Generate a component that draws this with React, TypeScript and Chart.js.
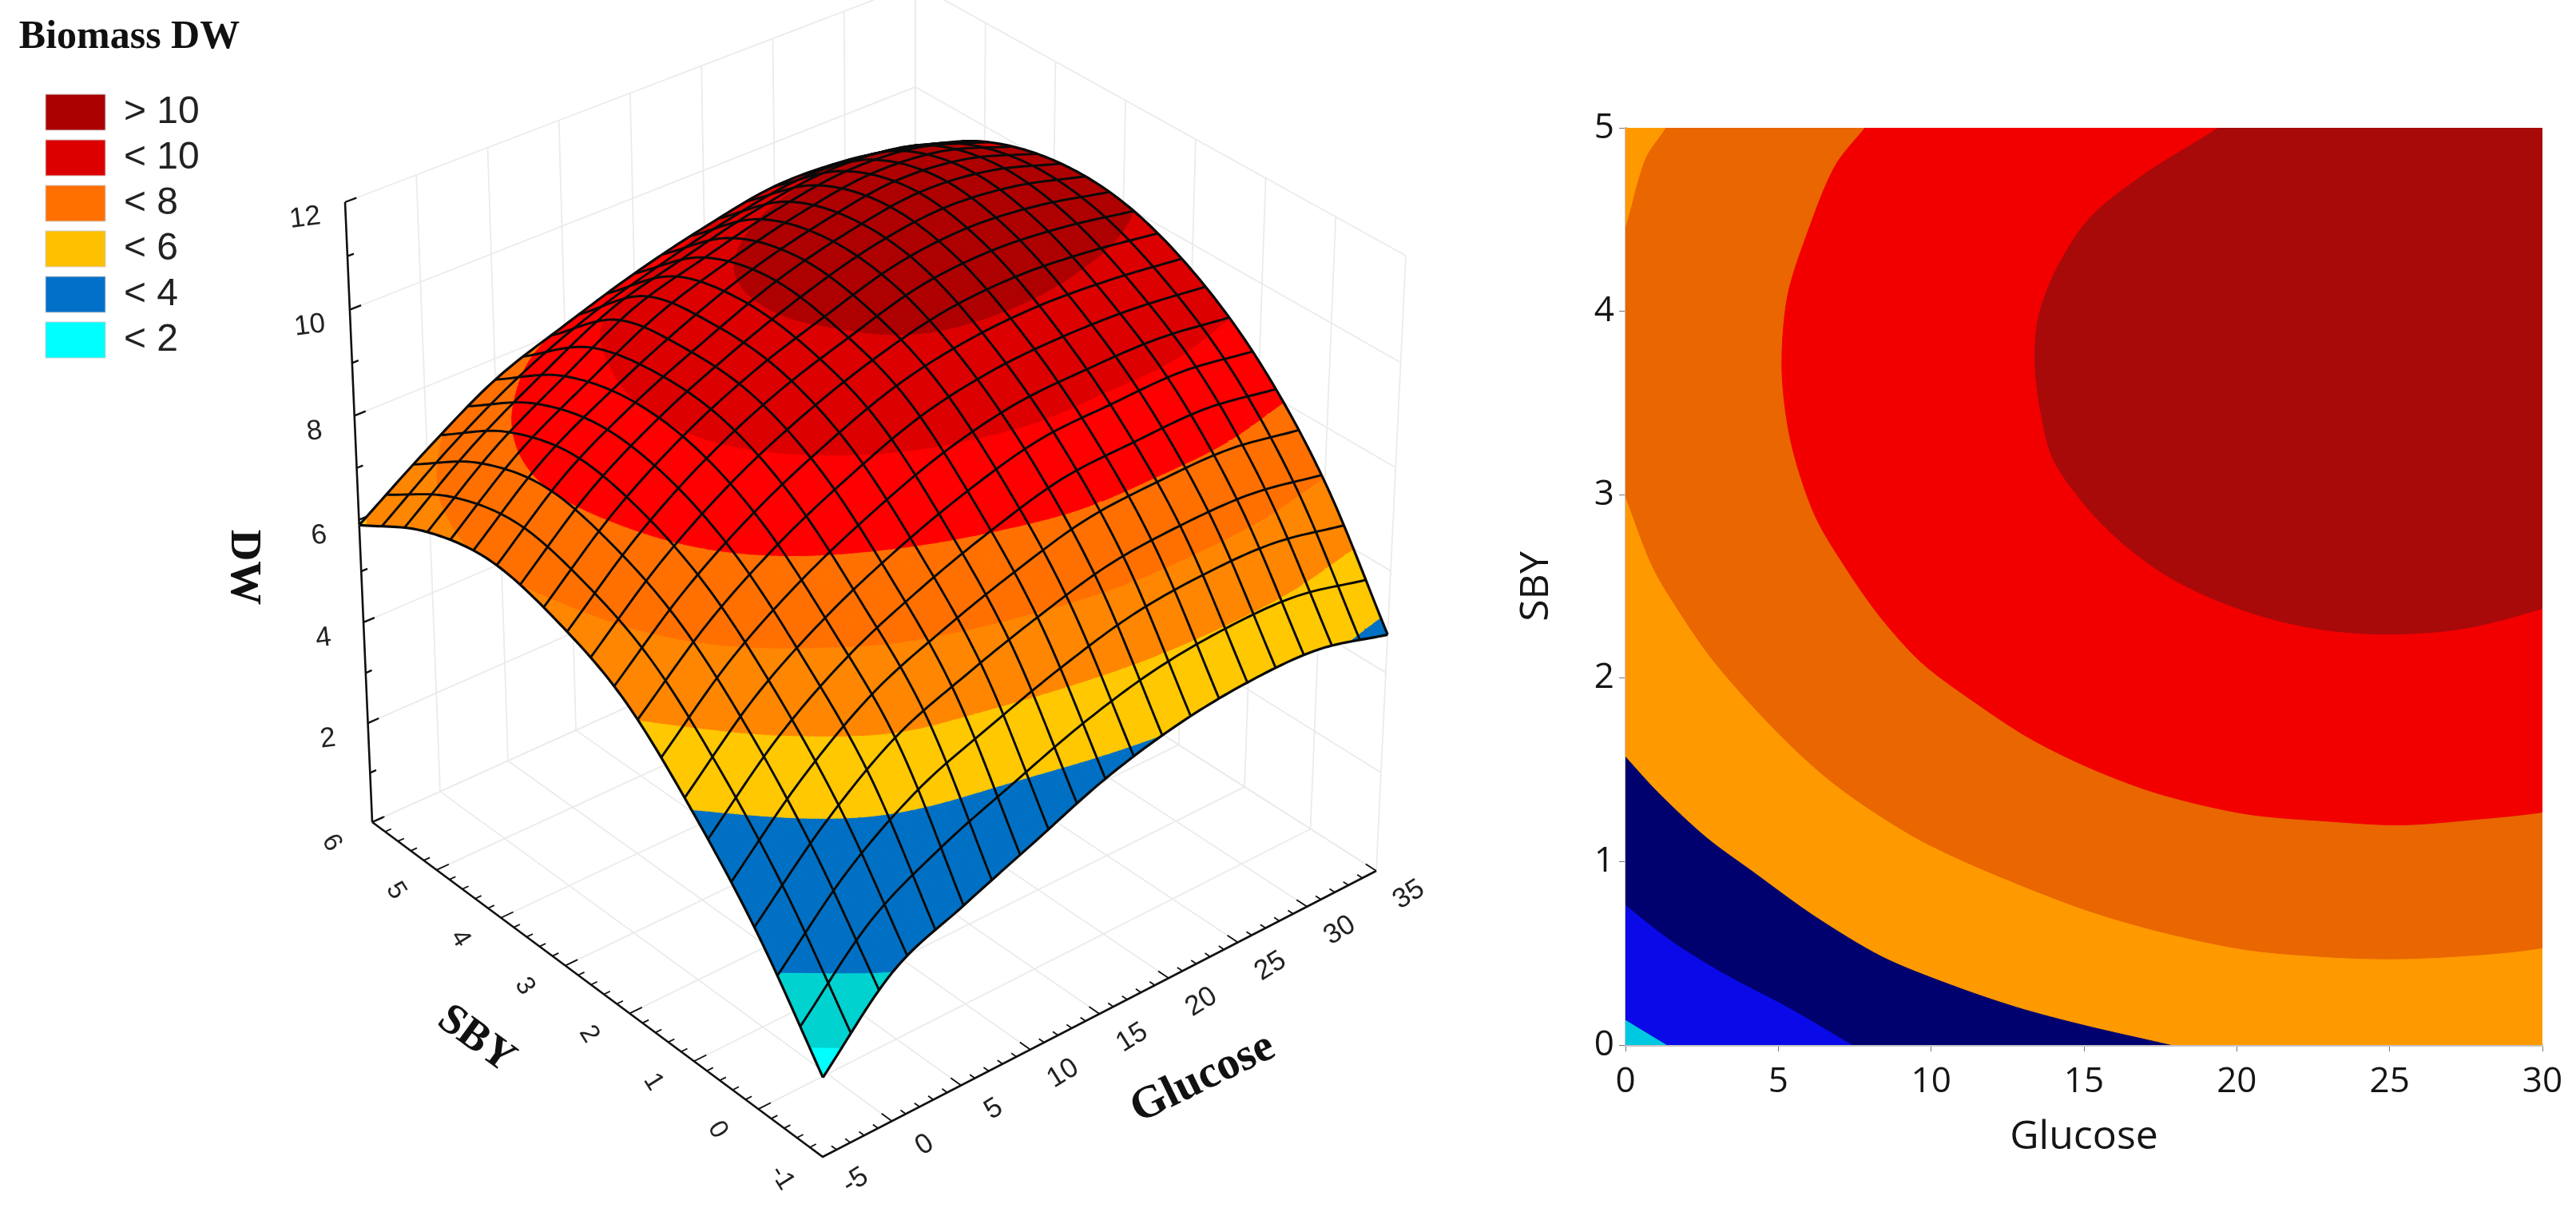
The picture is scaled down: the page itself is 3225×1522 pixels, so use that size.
import React, { useEffect, useRef } from "react";
import { Chart, registerables } from "chart.js";

Chart.register(...registerables);

// ---------- 3D surface values (DW) ----------
const glucoseNodes = [-5, 0, 5, 10, 15, 20, 25, 30, 35];
const sbyNodes = [-1, 0, 1, 2, 3, 4, 5, 6];
const dwAtSbyM1 = [1.6, 3.0, 3.6, 4.15, 4.7, 5.05, 5.2, 5.15, 4.75];
const dwAtSby0 = [3.5, 4.85, 5.85, 6.4, 6.85, 7.2, 7.3, 7.25, 6.95];
const dwAtSby1 = [5.0, 6.3, 7.2, 7.85, 8.35, 8.7, 8.75, 8.75, 8.5];
const dwAtSby2 = [6.2, 7.4, 8.3, 8.97, 9.5, 9.75, 9.8, 9.7, 9.5];
const dwAtSby3 = [6.8, 8.0, 8.9, 9.55, 10.0, 10.4, 10.5, 10.35, 10.05];
const dwAtSby4 = [7.05, 8.2, 8.98, 9.6, 10.15, 10.5, 10.7, 10.55, 10.1];
const dwAtSby5 = [6.7, 7.75, 8.55, 9.3, 9.7, 10.05, 10.25, 10.15, 9.7];
const dwAtSby6 = [5.9, 6.8, 7.6, 8.1, 8.55, 8.9, 9.15, 9.1, 8.85];
const dwTable = [dwAtSbyM1, dwAtSby0, dwAtSby1, dwAtSby2, dwAtSby3, dwAtSby4, dwAtSby5, dwAtSby6];

const bandLevels = [2, 3, 5, 6, 7, 8, 9, 10];
const bandColors = ["#00FFFF", "#00D2D0", "#0070C4", "#FFC800", "#FF8600", "#FF7000", "#FF0000", "#DC0000", "#AE0000"];

const glucoseTicks3d = [-5, 0, 5, 10, 15, 20, 25, 30, 35];
const sbyTicks3d = [-1, 0, 1, 2, 3, 4, 5, 6];
const dwTicks3d = [2, 4, 6, 8, 10, 12];

const legendLabels = ["> 10", "< 10", "< 8", "< 6", "< 4", "< 2"];
const legendColors = ["#AA0000", "#DD0000", "#FF7000", "#FFC000", "#0070C8", "#00FFFF"];

// ---------- contour panel boundaries (Glucose, SBY) ----------
const contourDarkOrange = [[2,5.2],[1.33,5],[0.66,4.83],[0.07,4.49],[-1,3.9],[-1,3.4],[0,2.99],[0.88,2.61],[1.77,2.36],[2.76,2.12],[3.98,1.88],[5.3,1.65],[6.63,1.45],[7.95,1.29],[9.72,1.11],[11.93,0.94],[15,0.74],[17.45,0.62],[20.3,0.52],[23,0.48],[25.2,0.47],[27.8,0.49],[30,0.53],[31.5,0.6],[31.5,6],[2,6]];
const contourRed = [[8.8,5.2],[7.84,5],[6.85,4.79],[5.96,4.43],[5.3,4.08],[5.12,3.68],[5.41,3.29],[6.19,2.89],[7.29,2.58],[8.4,2.32],[9.72,2.08],[11.5,1.86],[13.25,1.67],[15.2,1.51],[17.45,1.37],[20.3,1.26],[23,1.22],[25.4,1.2],[27.8,1.23],[30,1.27],[31.5,1.33],[31.5,6],[8.8,6]];
const contourDarkRed = [[21,5.2],[19.4,5],[17,4.75],[15.2,4.51],[14.1,4.23],[13.5,3.96],[13.4,3.7],[13.6,3.44],[14,3.19],[15.1,2.93],[16.3,2.73],[17.7,2.56],[19.4,2.42],[21.2,2.32],[23,2.26],[25,2.24],[27.4,2.27],[30,2.38],[31.5,2.48],[31.5,6],[21,6]];
const contourNavy = [[-1,1.76],[0,1.57],[1.1,1.37],[2.65,1.13],[4.2,0.94],[6.2,0.7],[8.4,0.48],[10.6,0.33],[12.8,0.205],[15,0.107],[17.8,0],[19,-0.05],[19,-1],[-1,-1]];
const contourBlue = [[-1,0.9],[0,0.76],[1.55,0.56],[3.3,0.38],[5.3,0.205],[7.4,0],[8.6,-0.12],[8.6,-1],[-1,-1]];
const contourCyan = [[0,0.134],[1.33,0],[0,0]];
const contourBase = [[0,0],[30,0],[30,5],[0,5]];

const glucoseTicks2d = [0, 5, 10, 15, 20, 25, 30];
const sbyTicks2d = [0, 1, 2, 3, 4, 5];

// ---------- 3D view: screen position of the eight box corners ----------
const cornerFloor = { b: [1030, 1448], c: [1723, 1090], a: [466, 1029], d: [1146, 722] };
const cornerTop = { b: [1032, 668], c: [1760, 320], a: [432, 253], d: [1146, -20] };
const gMin = -5, gMax = 35, sMin = -1, sMax = 6, zMax = 12;

const lerp = (p: number, q: number, t: number) => p + (q - p) * t;
function project(g: number, s: number, z: number) {
  const t = (g - gMin) / (gMax - gMin);
  const u = (s - sMin) / (sMax - sMin);
  const f = z / zMax;
  const w = f - 0.05 * f * (1 - f);
  const bi = (k: any, i: number) => lerp(lerp(k.b[i], k.c[i], t), lerp(k.a[i], k.d[i], t), u);
  return { x: lerp(bi(cornerFloor, 0), bi(cornerTop, 0), w), y: lerp(bi(cornerFloor, 1), bi(cornerTop, 1), w) };
}

function cubic(p0: number, p1: number, p2: number, p3: number, t: number) {
  return 0.5 * (2 * p1 + (p2 - p0) * t + (2 * p0 - 5 * p1 + 4 * p2 - p3) * t * t + (3 * p1 - p0 - 3 * p2 + p3) * t * t * t);
}
function rowAt(row: number[], i: number) {
  if (i < 0) return 2 * row[0] - row[1];
  if (i >= row.length) return 2 * row[row.length - 1] - row[row.length - 2];
  return row[i];
}
function dwAt(gIn: number, sIn: number) {
  const g = Math.min(gMax, Math.max(gMin, gIn));
  const s = Math.min(sMax, Math.max(sMin, sIn));
  const gi = Math.max(0, Math.min(Math.floor((g - gMin) / 5), glucoseNodes.length - 2));
  const si = Math.max(0, Math.min(Math.floor(s - sMin), sbyNodes.length - 2));
  const tg = (g - glucoseNodes[gi]) / 5;
  const ts = s - sbyNodes[si];
  const col = (k: number): number => {
    if (k < 0) return 2 * col(0) - col(1);
    if (k >= dwTable.length) return 2 * col(dwTable.length - 1) - col(dwTable.length - 2);
    const r = dwTable[k];
    return cubic(rowAt(r, gi - 1), rowAt(r, gi), rowAt(r, gi + 1), rowAt(r, gi + 2), tg);
  };
  return cubic(col(si - 1), col(si), col(si + 1), col(si + 2), ts);
}
const bandOf = (z: number) => {
  let b = 0;
  while (b < bandLevels.length && z >= bandLevels[b]) b++;
  return b;
};

function surfacePoint(g: number, s: number) {
  return project(g, s, dwAt(g, s));
}

type V = { g: number; s: number; z: number };
function clipHalf(poly: V[], level: number, keepAbove: boolean) {
  const out: V[] = [];
  for (let i = 0; i < poly.length; i++) {
    const a = poly[i];
    const b = poly[(i + 1) % poly.length];
    const ain = keepAbove ? a.z >= level : a.z <= level;
    const bin = keepAbove ? b.z >= level : b.z <= level;
    if (ain) out.push(a);
    if (ain !== bin) {
      const t = (level - a.z) / (b.z - a.z);
      out.push({ g: lerp(a.g, b.g, t), s: lerp(a.s, b.s, t), z: level });
    }
  }
  return out;
}

const fillSet = (data: any[], color: string) => ({
  data,
  showLine: true,
  fill: "shape",
  backgroundColor: color,
  borderColor: color,
  borderWidth: 1.1,
  pointRadius: 0,
});

function buildSurfaceDatasets() {
  const ds: any[] = [];
  const N = 120;
  const G = (j: number) => gMax - ((gMax - gMin) * j) / N;
  const S = (i: number) => sMax - ((sMax - sMin) * i) / N;
  const zz: number[][] = [];
  for (let i = 0; i <= N; i++) {
    zz.push([]);
    for (let j = 0; j <= N; j++) zz[i].push(dwAt(G(j), S(i)));
  }
  for (let i = 0; i < N; i++) {
    let runStart = -1;
    let runBand = -1;
    const flush = (end: number) => {
      if (runStart < 0) return;
      const top: any[] = [];
      const bot: any[] = [];
      for (let j = runStart; j <= end; j++) {
        top.push(project(G(j), S(i), zz[i][j]));
        bot.push(project(G(j), S(i + 1), zz[i + 1][j]));
      }
      ds.push(fillSet(top.concat(bot.reverse()), bandColors[runBand]));
      runStart = -1;
    };
    for (let j = 0; j < N; j++) {
      const c = [zz[i][j], zz[i][j + 1], zz[i + 1][j + 1], zz[i + 1][j]];
      const bands = c.map(bandOf);
      const lo = Math.min(...bands);
      const hi = Math.max(...bands);
      if (lo === hi) {
        if (runStart >= 0 && runBand !== lo) flush(j);
        if (runStart < 0) {
          runStart = j;
          runBand = lo;
        }
      } else {
        flush(j);
        const quad: V[] = [
          { g: G(j), s: S(i), z: c[0] },
          { g: G(j + 1), s: S(i), z: c[1] },
          { g: G(j + 1), s: S(i + 1), z: c[2] },
          { g: G(j), s: S(i + 1), z: c[3] },
        ];
        for (let b = lo; b <= hi; b++) {
          let piece = quad;
          if (b > 0) piece = clipHalf(piece, bandLevels[b - 1], true);
          if (b < bandLevels.length && piece.length) piece = clipHalf(piece, bandLevels[b], false);
          if (piece.length >= 3) {
            const pts = piece.map((v) => project(v.g, v.s, v.z));
            pts.push(pts[0]);
            ds.push(fillSet(pts, bandColors[b]));
          }
        }
      }
    }
    flush(N);
  }
  return ds;
}

const line = (data: any[], color: string, width: number) => ({
  data,
  showLine: true,
  fill: false,
  borderColor: color,
  backgroundColor: color,
  borderWidth: width,
  pointRadius: 0,
});

function buildGridDatasets() {
  const ds: any[] = [];
  const c = "#ebebeb";
  const w = 1.8;
  for (const g of glucoseTicks3d) {
    ds.push(line([project(g, sMin, 0), project(g, sMax, 0), project(g, sMax, zMax)], c, w));
  }
  for (const s of sbyTicks3d) {
    ds.push(line([project(gMin, s, 0), project(gMax, s, 0), project(gMax, s, zMax)], c, w));
  }
  for (const z of [0, ...dwTicks3d]) {
    ds.push(line([project(gMin, sMax, z), project(gMax, sMax, z), project(gMax, sMin, z)], c, w));
  }
  return ds;
}

function buildMeshDatasets() {
  const ds: any[] = [];
  const M = 20;
  const steps = 120;
  for (let k = 0; k <= M; k++) {
    const g = gMin + ((gMax - gMin) * k) / M;
    const s = sMin + ((sMax - sMin) * k) / M;
    const a: any[] = [];
    const b: any[] = [];
    for (let i = 0; i <= steps; i++) {
      a.push(surfacePoint(g, sMin + ((sMax - sMin) * i) / steps));
      b.push(surfacePoint(gMin + ((gMax - gMin) * i) / steps, s));
    }
    const edge = k === 0 || k === M;
    ds.push(line(a, "#0a0a0a", edge ? 3.2 : 2.9));
    ds.push(line(b, "#0a0a0a", edge ? 3.2 : 2.9));
  }
  return ds;
}

function buildAxisDatasets() {
  const ds: any[] = [];
  const black = "#111111";
  ds.push(line([project(gMin, sMax, 0), project(gMin, sMin, 0), project(gMax, sMin, 0)], black, 2.6));
  ds.push(line([project(gMin, sMax, 0), project(gMin, sMax, zMax)], black, 2.6));
  for (let z = 0; z <= zMax; z++) {
    const major = z % 2 === 0;
    ds.push(line([project(gMin, sMax, z), project(gMin + (major ? 0.8 : 0.45), sMax, z)], black, 2.4));
  }
  for (let g = gMin; g <= gMax; g++) {
    const major = (g - gMin) % 5 === 0;
    ds.push(line([project(g, sMin, 0), project(g, sMin + (major ? 0.16 : 0.08), 0)], black, 1.8));
  }
  for (let i = 0; i <= 35; i++) {
    const s = sMin + i / 5;
    const major = i % 5 === 0;
    ds.push(line([project(gMin, s, 0), project(gMin + (major ? 0.9 : 0.45), s, 0)], black, 1.8));
  }
  return ds;
}

function textAt(ctx: any, text: string, x: number, y: number, deg: number, font: string, color = "#111") {
  ctx.save();
  ctx.translate(x, y);
  ctx.rotate((deg * Math.PI) / 180);
  ctx.font = font;
  ctx.fillStyle = color;
  ctx.textAlign = "center";
  ctx.textBaseline = "middle";
  ctx.fillText(text, 0, 0);
  ctx.restore();
}

const annotations3d = {
  id: "annotations3d",
  afterDraw(chart: any) {
    const { ctx, scales } = chart;
    const X = (v: number) => scales.x.getPixelForValue(v);
    const Y = (v: number) => scales.y.getPixelForValue(v);
    const sans = '"Liberation Sans"';
    const serif = '"Liberation Serif"';
    for (const z of dwTicks3d) {
      const p = project(gMin, sMax, z);
      textAt(ctx, String(z), X(p.x - 50), Y(p.y + 20), -7, `35px ${sans}`, "#222");
    }
    for (const s of sbyTicks3d) {
      const p = project(gMin, s, 0);
      textAt(ctx, String(s), X(p.x - 51), Y(p.y + 26), 58, `33px ${sans}`, "#222");
    }
    for (const g of glucoseTicks3d) {
      const p = project(g, sMin, 0);
      textAt(ctx, String(g), X(p.x + 41), Y(p.y + 30), -32, `35px ${sans}`, "#222");
    }
    textAt(ctx, "DW", X(304), Y(710), 90, `bold 55px ${serif}`);
    textAt(ctx, "SBY", X(596), Y(1301), 36, `bold 54px ${serif}`);
    textAt(ctx, "Glucose", X(1506), Y(1350), -26, `bold 57px ${serif}`);
    textAt(ctx, "Biomass DW", X(162), Y(47), 0, `bold 50px ${serif}`);
    ctx.save();
    legendLabels.forEach((label, i) => {
      const top = 118 + i * 57;
      ctx.fillStyle = legendColors[i];
      ctx.fillRect(X(57), Y(top), 75, 45);
      ctx.strokeStyle = "#d0d0d0";
      ctx.lineWidth = 1;
      ctx.strokeRect(X(57), Y(top), 75, 45);
      ctx.font = `48px ${sans}`;
      ctx.fillStyle = "#222";
      ctx.textAlign = "left";
      ctx.textBaseline = "middle";
      ctx.fillText(label, X(155), Y(top + 23));
    });
    ctx.restore();
  },
};

function poly(points: number[][], color: string) {
  return {
    data: points.map(([x, y]) => ({ x, y })),
    showLine: true,
    fill: "shape",
    tension: 0.3,
    capBezierPoints: false,
    backgroundColor: color,
    borderColor: color,
    borderWidth: 1,
    pointRadius: 0,
  };
}

export default function App() {
  const leftRef = useRef<HTMLCanvasElement>(null);
  const rightRef = useRef<HTMLCanvasElement>(null);

  useEffect(() => {
    const paint = [
      ...buildGridDatasets(),
      ...buildAxisDatasets(),
      ...buildSurfaceDatasets(),
      ...buildMeshDatasets(),
    ];
    const left = new Chart(leftRef.current as any, {
      type: "scatter",
      data: { datasets: paint.reverse() },
      options: {
        animation: false,
        responsive: false,
        devicePixelRatio: 1,
        events: [],
        layout: { padding: 0 },
        plugins: { legend: { display: false }, tooltip: { enabled: false } },
        scales: {
          x: { type: "linear", display: false, min: 0, max: 1880 },
          y: { type: "linear", display: false, min: 0, max: 1522, reverse: true },
        },
      },
      plugins: [annotations3d],
    } as any);

    const contour = [
      { ...poly(contourBase, "#FF9900"), tension: 0 },
      poly(contourDarkOrange, "#E96600"),
      poly(contourRed, "#F20000"),
      poly(contourDarkRed, "#A80A0A"),
      poly(contourNavy, "#00006E"),
      poly(contourBlue, "#0A0AE8"),
      { ...poly(contourCyan, "#00C8E0"), tension: 0 },
    ];
    const tickFont = { family: '"Open Sans"', size: 44 };
    const titleFont = { family: '"Open Sans"', size: 50 };
    const right = new Chart(rightRef.current as any, {
      type: "scatter",
      data: { datasets: contour.reverse() },
      options: {
        animation: false,
        responsive: false,
        devicePixelRatio: 1,
        events: [],
        layout: { padding: { top: 60, right: 42, left: 0, bottom: 0 } },
        plugins: { legend: { display: false }, tooltip: { enabled: false } },
        scales: {
          x: {
            type: "linear",
            min: 0,
            max: 30,
            afterBuildTicks: (s: any) => { s.ticks = glucoseTicks2d.map((value) => ({ value })); },
            afterFit: (s: any) => { s.height = 214; },
            ticks: { font: tickFont, color: "#151515", padding: 12, maxRotation: 0 },
            grid: { drawOnChartArea: false, tickLength: 8, color: "#777" },
            border: { color: "#c4c4c4", width: 3 },
            title: { display: true, text: "Glucose", font: titleFont, color: "#151515", padding: { top: 0, bottom: 68 } },
          },
          y: {
            type: "linear",
            min: 0,
            max: 5,
            afterBuildTicks: (s: any) => { s.ticks = sbyTicks2d.map((value) => ({ value })); },
            afterFit: (s: any) => { s.width = 155; },
            ticks: { font: tickFont, color: "#151515", padding: 6 },
            grid: { drawOnChartArea: false, tickLength: 8, color: "#777" },
            border: { color: "#c4c4c4", width: 3 },
            title: { display: true, text: "SBY", font: titleFont, color: "#151515", padding: { top: 14, bottom: 0 } },
          },
        },
      },
    } as any);

    return () => {
      left.destroy();
      right.destroy();
    };
  }, []);

  return (
    <div style={{ position: "absolute", left: 0, top: 0, width: 3225, height: 1522, overflow: "hidden", background: "#fff" }}>
      <canvas ref={leftRef} width={1880} height={1522} style={{ position: "absolute", left: 0, top: 0 }} />
      <canvas ref={rightRef} width={1345} height={1422} style={{ position: "absolute", left: 1880, top: 100 }} />
    </div>
  );
}
